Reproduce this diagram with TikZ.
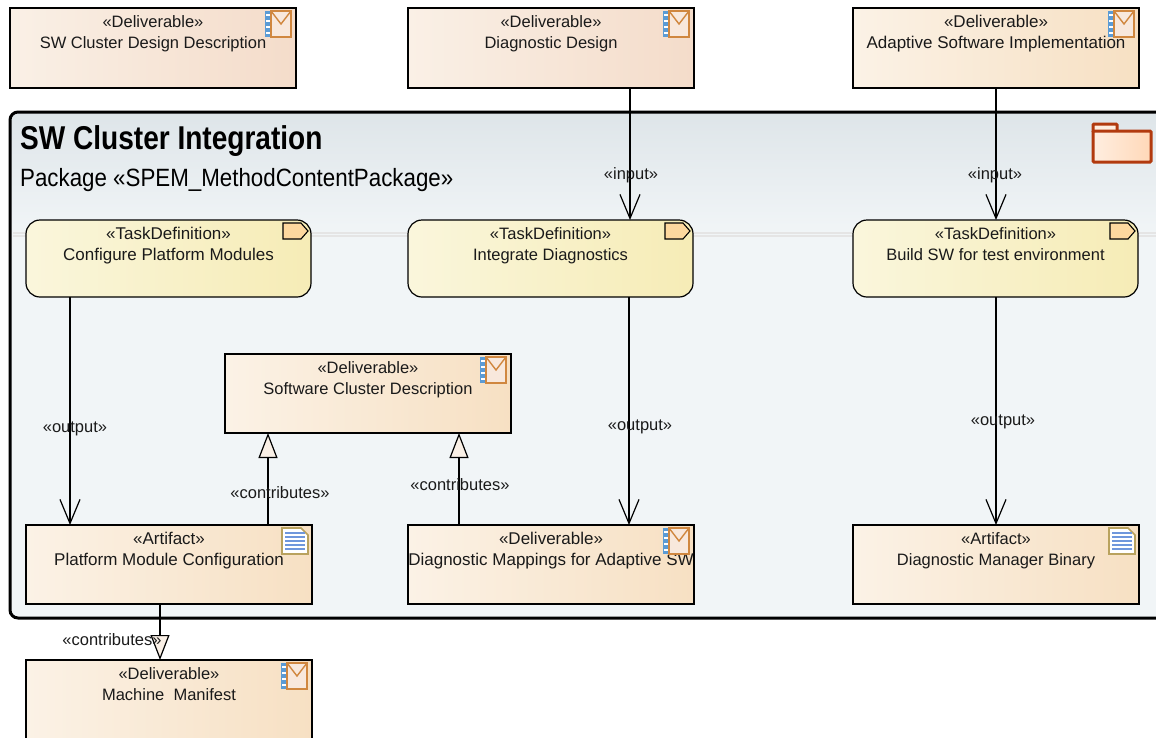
\documentclass[tikz,border=0pt]{standalone}
\usepackage{fontspec}
\setmainfont{Liberation Sans}
\usepackage{xcolor}
\usetikzlibrary{arrows.meta, calc}
\definecolor{inkc}{HTML}{1A1A1A}
\definecolor{pkgtop}{HTML}{DEE5E9}
\definecolor{pkgbot}{HTML}{F1F5F7}
\definecolor{delivA}{HTML}{FAF0E6}
\definecolor{delivB}{HTML}{F4DCCA}
\definecolor{artA}{HTML}{FBF2E6}
\definecolor{artB}{HTML}{F7E0C3}
\definecolor{taskA}{HTML}{FAF6DC}
\definecolor{taskB}{HTML}{F6ECB6}
\definecolor{mailc}{HTML}{D0873F}
\definecolor{mailf}{HTML}{F8E8DC}
\definecolor{stripc}{HTML}{5B9BD5}
\definecolor{docc}{HTML}{B9A25E}
\definecolor{doclines}{HTML}{6F97DC}
\definecolor{tagf}{HTML}{FDD89E}
\definecolor{folderc}{HTML}{B23A0E}
\definecolor{folderA}{HTML}{FFEEE0}
\definecolor{folderB}{HTML}{FFD8B8}
\pgfdeclareverticalshading{pkgshade}{100bp}{color(0bp)=(pkgbot); color(63bp)=(pkgbot); color(75bp)=(pkgtop); color(100bp)=(pkgtop)}
\tikzset{
  boxtext/.style={font=\fontsize{16.5}{21}\selectfont, text=inkc, align=center, inner sep=0pt, anchor=north, yshift=-7pt},
  widetext/.style={boxtext, font=\fontsize{17}{21}\selectfont},
  basebox/.style={draw=black, line width=1.2pt, minimum height=#1, inner sep=0pt, outer sep=0pt, anchor=north west},
  deliverable/.style={basebox=80pt, minimum width=286pt, left color=delivA, right color=delivB},
  product/.style={basebox=79pt, minimum width=286pt, left color=artA, right color=artB},
  taskbox/.style={basebox=77pt, minimum width=285pt, rounded corners=14pt, left color=taskA, right color=taskB},
  flowlabel/.style={font=\fontsize{16.5}{19}\selectfont, text=inkc, inner sep=0pt},
  dataflow/.style={line width=1.2pt, -{Straight Barb[length=24pt,width=20pt,line width=1.2pt]}},
  contributes/.style={line width=1.2pt, -{Triangle[open,length=25pt,width=19pt,line width=1.2pt,fill=delivA]}},
  mailicon/.pic={
    \fill[stripc] (-6,0) rectangle (0,26);
    \foreach \yy in {3,9,15,21}
      \fill[white] (-5,\yy) rectangle (-1,\yy+2);
    \draw[mailc, fill=mailf, line width=1.4pt] (0,0) rectangle (20,26);
    \draw[mailc, line width=1.4pt] (0,0) -- (10,13) -- (20,0);
  },
  docicon/.pic={
    \draw[docc, fill=white, line width=1.6pt] (0,0) -- (19,0) -- (26,7) -- (26,26) -- (0,26) -- cycle;
    \foreach \yy in {5,9,13,17,21}
      \draw[doclines, line width=1.5pt] (3,\yy) -- (23,\yy);
  },
  tagicon/.pic={
    \draw[black, fill=tagf, line width=1.1pt] (0,0) -- (18,0) -- (25,8) -- (18,16) -- (0,16) -- cycle;
  },
}
\begin{document}
\begin{tikzpicture}[x=1pt,y=-1pt]
\useasboundingbox (0,0) rectangle (1156,737);
% Package
\node[draw=black, line width=3pt, rounded corners=8pt, minimum width=1190pt, minimum height=506pt,
      inner sep=0pt, outer sep=0pt, anchor=north west, shade, shading=pkgshade]
      (swcluster) at (10,112) {};
\node[font=\bfseries\fontsize{33}{36}\selectfont, text=black, inner sep=0pt, anchor=west, xscale=0.85] (pkgtitle) at (20,141) {SW Cluster Integration};
\node[font=\fontsize{25}{30}\selectfont, text=black, inner sep=0pt, anchor=west, xscale=0.893] (pkgkind) at (20,180) {Package «SPEM\_MethodContentPackage»};
\draw[black!10, line width=1.5pt] (13,233) -- (1156,233);
\draw[black!10, line width=1.5pt] (13,236) -- (1156,236);
% Folder icon
\draw[folderc, fill=folderA, line width=3pt, rounded corners=1pt] (1093,124) rectangle (1117,132);
\draw[folderc, left color=folderA, right color=folderB, line width=3pt, rounded corners=1pt] (1093,131) rectangle (1151,162);
% Deliverables above the package
\node[deliverable, label={[boxtext]north:«Deliverable»\\SW Cluster Design Description}] (swdesign) at (10,8) {};
\node[deliverable, label={[boxtext]north:«Deliverable»\\Diagnostic Design}] (diagdesign) at (408,8) {};
\node[deliverable, left color=artA, right color=artB, label={[widetext]north:«Deliverable»\\Adaptive Software Implementation}] (adaptive) at (853,8) {};
% Tasks
\node[taskbox, label={[widetext]north:«TaskDefinition»\\Configure Platform Modules}] (configure) at (26,220) {};
\node[taskbox, label={[boxtext]north:«TaskDefinition»\\Integrate Diagnostics}] (integrate) at (408,220) {};
\node[taskbox, label={[boxtext]north:«TaskDefinition»\\Build SW for test environment}] (buildsw) at (853,220) {};
% Work products
\node[product, label={[boxtext]north:«Deliverable»\\Software Cluster Description}] (clusterdesc) at (225,354) {};
\node[product, label={[widetext]north:«Artifact»\\Platform Module Configuration}] (platformcfg) at (26,525) {};
\node[product, label={[widetext]north:«Deliverable»\\Diagnostic Mappings for Adaptive SW}] (mappings) at (408,525) {};
\node[product, label={[boxtext]north:«Artifact»\\Diagnostic Manager Binary}] (binary) at (853,525) {};
\node[product, minimum height=80pt, label={[boxtext]north:«Deliverable»\\Machine\ \ Manifest}] (manifest) at (26,660) {};
% Icons
\foreach \nn in {swdesign,diagdesign,adaptive,clusterdesc,mappings,manifest}
  \pic at ($(\nn.north east)+(-25,3)$) {mailicon};
\foreach \nn in {platformcfg,binary}
  \pic at ($(\nn.north east)+(-30,3)$) {docicon};
\foreach \nn in {configure,integrate,buildsw}
  \pic at ($(\nn.north east)+(-28,3)$) {tagicon};
% Connectors
\draw[dataflow] ($(diagdesign.south west)+(222,0)$) -- ($(integrate.north west)+(222,0)$);
\draw[dataflow] ($(adaptive.south west)+(143,0)$) -- ($(buildsw.north west)+(143,0)$);
\draw[dataflow] ($(configure.south west)+(44,0)$) -- ($(platformcfg.north west)+(44,0)$);
\draw[dataflow] ($(integrate.south west)+(221,0)$) -- ($(mappings.north west)+(221,0)$);
\draw[dataflow] ($(buildsw.south west)+(143,0)$) -- ($(binary.north west)+(143,0)$);
\draw[contributes] ($(platformcfg.north west)+(242,0)$) -- ($(clusterdesc.south west)+(43,0)$);
\draw[contributes] ($(mappings.north west)+(51,0)$) -- ($(clusterdesc.south west)+(234,0)$);
\draw[contributes] ($(platformcfg.south west)+(134,0)$) -- ($(manifest.north west)+(134,0)$);
% Connector labels
\node[flowlabel] (lbinputa) at (631,175) {«input»};
\node[flowlabel] (lbinputb) at (995,175) {«input»};
\node[flowlabel] (lboutputa) at (75,429) {«output»};
\node[flowlabel] (lboutputb) at (640,427) {«output»};
\node[flowlabel] (lboutputc) at (1003,422) {«output»};
\node[flowlabel] (lbcontriba) at (280,493) {«contributes»};
\node[flowlabel] (lbcontribb) at (460,485) {«contributes»};
\node[flowlabel] (lbcontribc) at (112,640) {«contributes»};
\end{tikzpicture}
\end{document}
